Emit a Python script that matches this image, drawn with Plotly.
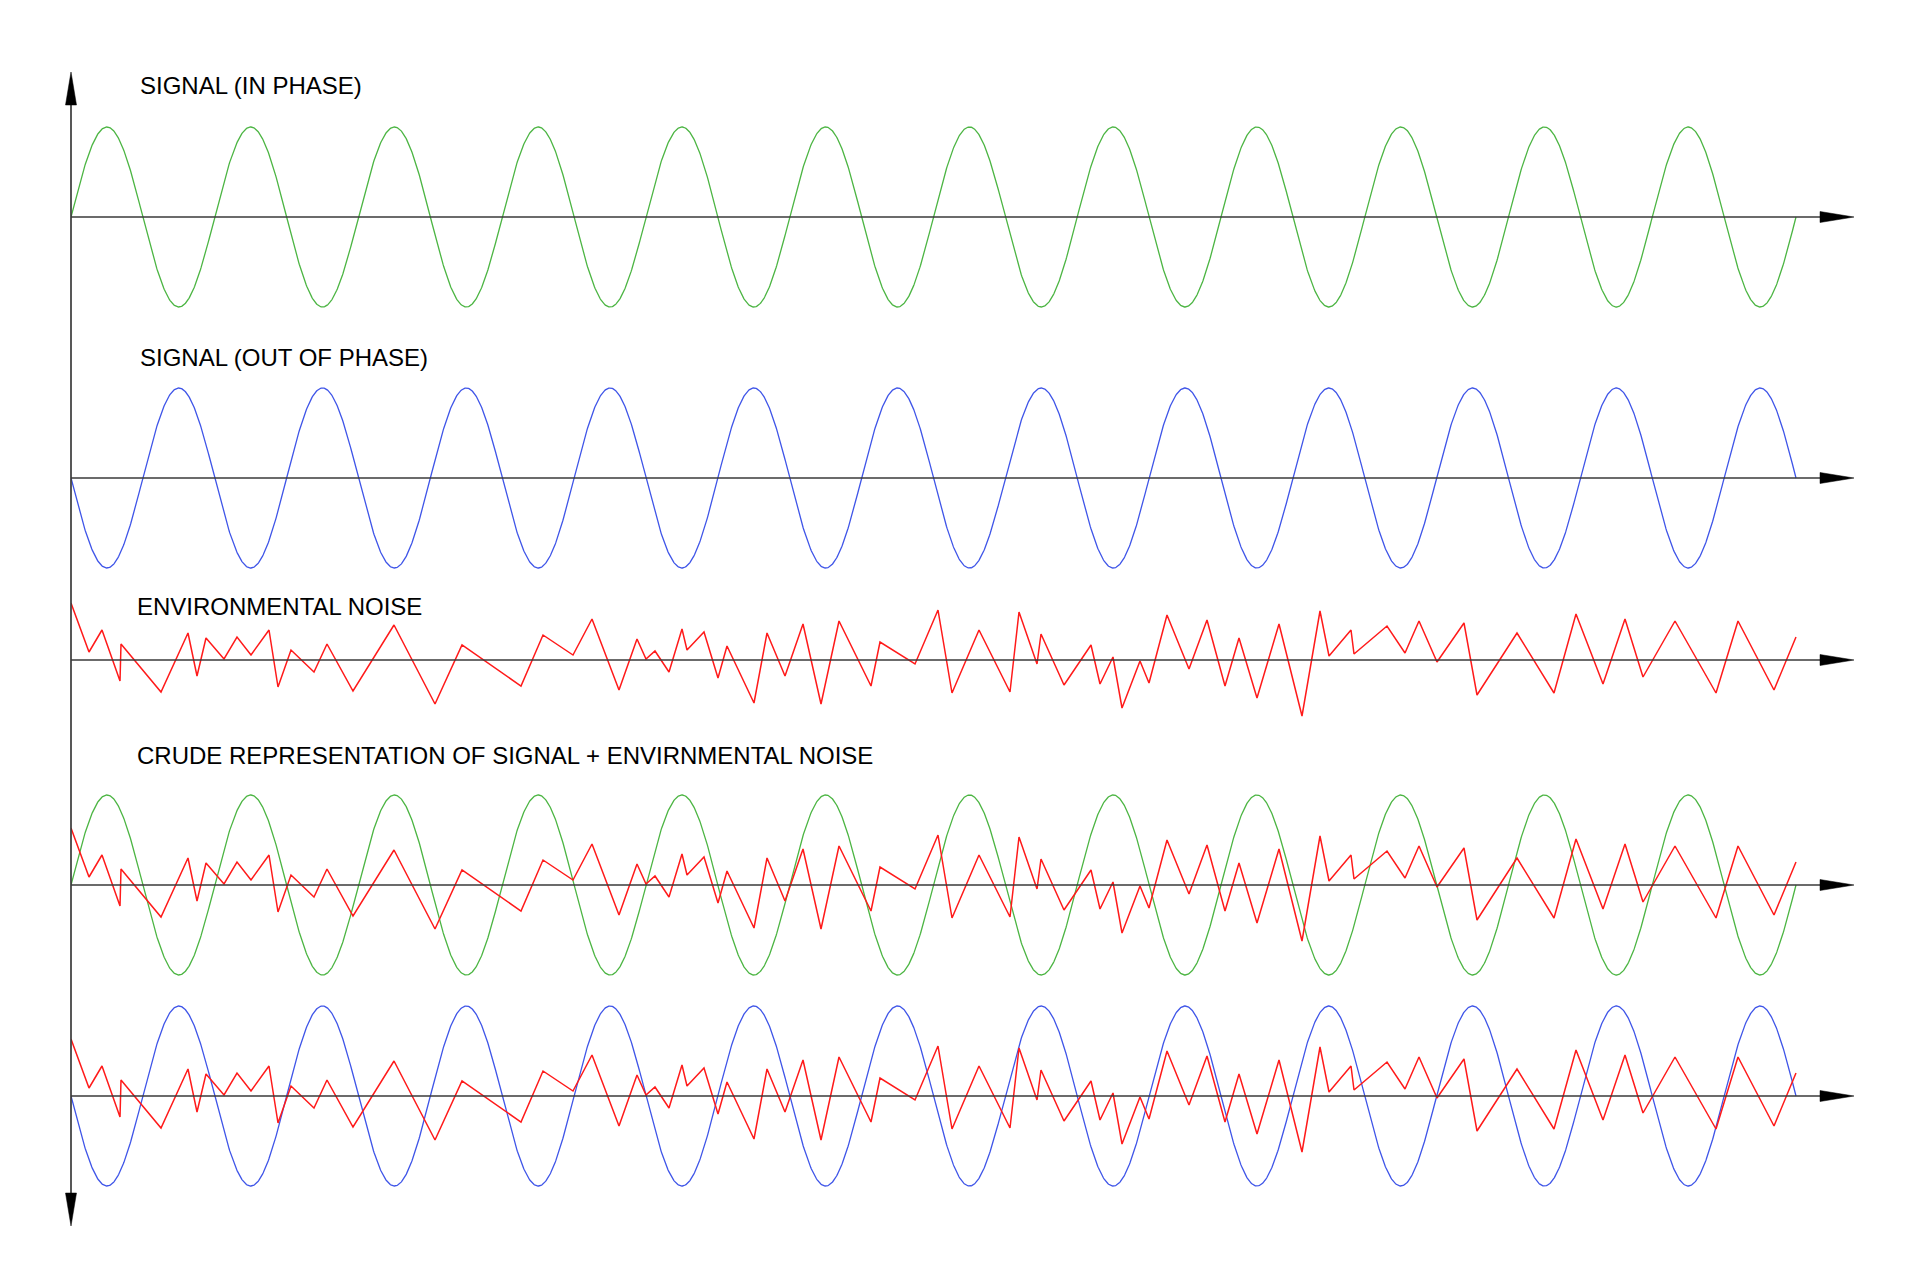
import numpy as np
import plotly.graph_objects as go

# ---------------- data ----------------
CYCLES = 12            # full periods of the signal across the time span
SPAN = 1725            # time span (arbitrary units)
AMPLITUDE = 90         # signal amplitude (arbitrary units)

# environmental noise vertices (time, value)
noise_t = [0, 18, 31, 49, 50, 90, 117, 126, 135, 153, 166, 180, 198, 207, 220,
           243, 256, 282, 323, 364, 391, 450, 472, 502, 521, 548, 566, 575, 584,
           598, 611, 616, 633, 647, 656, 683, 696, 714, 732, 750, 768, 800, 809,
           844, 867, 881, 908, 939, 948, 966, 970, 993, 1020, 1029, 1042, 1051,
           1069, 1078, 1096, 1118, 1136, 1154, 1168, 1186, 1208, 1231, 1249,
           1258, 1280, 1283, 1316, 1334, 1348, 1366, 1393, 1406, 1446, 1483,
           1505, 1532, 1554, 1572, 1604, 1645, 1667, 1703, 1725]
noise_v = [57, 8, 30, -21, 16, -32, 27, -16, 22, 1, 23, 5, 30, -27, 10,
           -12, 16, -31, 35, -44, 15, -26, 25, 5, 41, -30, 21, 1, 9,
           -12, 31, 10, 28, -18, 14, -43, 27, -16, 36, -44, 39, -26, 18,
           -4, 50, -33, 30, -32, 48, -4, 26, -25, 15, -24, 3, -48,
           -1, -23, 45, -9, 40, -26, 22, -38, 36, -56, 49,
           4, 30, 6, 34, 7, 39, -2, 37, -35, 27, -33,
           46, -24, 41, -17, 39, -33, 39, -30, 23]

panel_labels = ["SIGNAL (IN PHASE)", "SIGNAL (OUT OF PHASE)", "ENVIRONMENTAL NOISE",
                "CRUDE REPRESENTATION OF SIGNAL + ENVIRNMENTAL NOISE", ""]

# ---------------- styling / layout ----------------
W, H = 1920, 1280
GREEN = "#4cb543"
BLUE = "#3f55e8"
RED = "#ff1a1a"
AXIS = "#3a3a3a"
FONT = "Liberation Sans, Arial, Helvetica, sans-serif"

X0_PX, X1_PX = 71, 1860          # x-axis domain in pixels
panel_center_px = [217, 478, 660, 885, 1096]
panel_half_px = [95, 95, 70, 95, 95]
label_y_px = [86, 357, 606, 755]
label_x_px = [137.5, 137.5, 134.5, 134.5]

def px(x):
    return x / W

def py(y):
    return 1 - y / H

t = np.linspace(0, SPAN, 3000)
in_phase = AMPLITUDE * np.sin(2 * np.pi * CYCLES * t / SPAN)
out_phase = -in_phase

fig = go.Figure()

panel_traces = [
    [(t, in_phase, GREEN, 1.3)],
    [(t, out_phase, BLUE, 1.3)],
    [(noise_t, noise_v, RED, 1.5)],
    [(t, in_phase, GREEN, 1.3), (noise_t, noise_v, RED, 1.5)],
    [(t, out_phase, BLUE, 1.3), (noise_t, noise_v, RED, 1.5)],
]

layout_axes = {}
shapes = []
x_range = [0, X1_PX - X0_PX]
arrow_base = 1820 - X0_PX
arrow_tip = 1854 - X0_PX

for i, traces in enumerate(panel_traces):
    yname = "y" if i == 0 else f"y{i + 1}"
    ykey = "yaxis" if i == 0 else f"yaxis{i + 1}"
    c, h = panel_center_px[i], panel_half_px[i]
    layout_axes[ykey] = dict(domain=[py(c + h), py(c - h)], range=[-h, h],
                             visible=False, fixedrange=True, anchor="x")
    for (xs, ys, col, w) in traces:
        fig.add_trace(go.Scatter(x=xs, y=ys, mode="lines", xaxis="x", yaxis=yname,
                                 line=dict(color=col, width=w), hoverinfo="skip",
                                 showlegend=False))
    # horizontal axis line and arrow
    shapes.append(dict(type="line", xref="x", yref=yname, x0=0, x1=arrow_base,
                       y0=0, y1=0, line=dict(color=AXIS, width=1.5), layer="above"))
    shapes.append(dict(type="path", xref="x", yref=yname,
                       path=f"M {arrow_base},-5.5 L {arrow_tip},0 L {arrow_base},5.5 Z",
                       fillcolor="black", line=dict(color="black", width=0.5), layer="above"))

# vertical axis with arrows at both ends
shapes.append(dict(type="line", xref="paper", yref="paper", x0=px(71), x1=px(71),
                   y0=py(104), y1=py(1194), line=dict(color=AXIS, width=1.7), layer="above"))
shapes.append(dict(type="path", xref="paper", yref="paper",
                   path=f"M {px(65.5)},{py(105)} L {px(71)},{py(72)} L {px(76.5)},{py(105)} Z",
                   fillcolor="black", line=dict(color="black", width=0.5)))
shapes.append(dict(type="path", xref="paper", yref="paper",
                   path=f"M {px(65.5)},{py(1193)} L {px(71)},{py(1226)} L {px(76.5)},{py(1193)} Z",
                   fillcolor="black", line=dict(color="black", width=0.5)))

annotations = []
for lbl, lx, ly in zip(panel_labels, label_x_px, label_y_px):
    if not lbl:
        continue
    annotations.append(dict(text=lbl, xref="paper", yref="paper", x=px(lx), y=py(ly),
                            xanchor="left", yanchor="middle", showarrow=False,
                            font=dict(family=FONT, size=24, color="black")))

fig.update_layout(
    width=W, height=H,
    margin=dict(l=0, r=0, t=0, b=0),
    paper_bgcolor="white", plot_bgcolor="rgba(0,0,0,0)",
    xaxis=dict(domain=[px(X0_PX), px(X1_PX)], range=x_range, visible=False,
               fixedrange=True, anchor="y"),
    shapes=shapes, annotations=annotations,
    **layout_axes,
)

fig.write_html("out.html", config={"displayModeBar": False},
               post_script="document.body.style.margin='0';document.body.style.padding='0';")
